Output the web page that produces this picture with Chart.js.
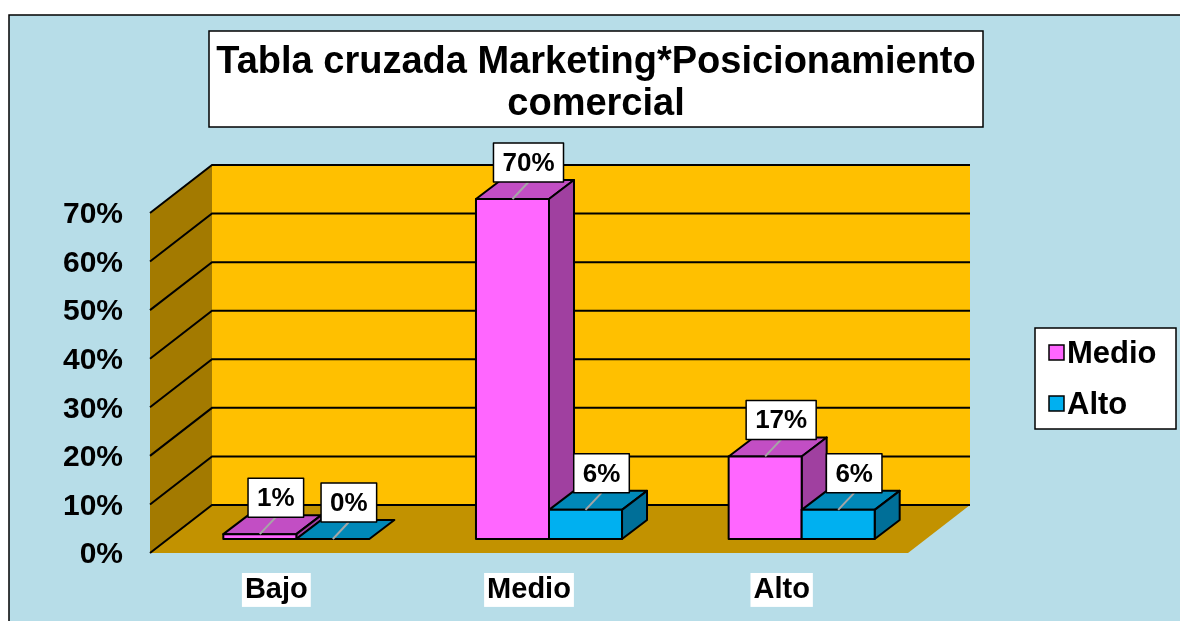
<!DOCTYPE html>
<html>
<head>
<meta charset="utf-8">
<title>Tabla cruzada Marketing*Posicionamiento comercial</title>
<style>
  html, body { margin: 0; padding: 0; background: #fff; }
  canvas { display: block; }
</style>
</head>
<body>
<canvas id="chart" width="1180" height="621"></canvas>
<script src="https://cdn.jsdelivr.net/npm/chart.js@4/dist/chart.umd.min.js"></script>
<script>
// datos
const TITLE_LINES = ['Tabla cruzada Marketing*Posicionamiento', 'comercial'];
const CATEGORIES = ['Bajo', 'Medio', 'Alto'];
const SERIES_NAMES = ['Medio', 'Alto'];
const MEDIO_VALUES = [1, 70, 17];
const ALTO_VALUES = [0, 6, 6];
const Y_TICKS = [0, 10, 20, 30, 40, 50, 60, 70];

const FONT = '"Liberation Sans", Arial, sans-serif';

// colores de las caras de cada serie
const FACES = [
  { front: '#FF66FF', top: '#C24EC4', side: '#A040A0' },
  { front: '#00B0F0', top: '#0088B8', side: '#006F98' }
];

// profundidad del "3D"
const WALL_DX = 62, WALL_DY = 48;   // pared del fondo
const BAR_OX = 20, BAR_OY = 14;     // posicion de la cara frontal de las barras
const BAR_DX = 25, BAR_DY = 19;     // grosor de las barras

function poly(ctx, pts, fill, stroke) {
  ctx.beginPath();
  ctx.moveTo(pts[0][0], pts[0][1]);
  for (let i = 1; i < pts.length; i++) ctx.lineTo(pts[i][0], pts[i][1]);
  ctx.closePath();
  if (fill) { ctx.fillStyle = fill; ctx.fill(); }
  if (stroke) { ctx.strokeStyle = stroke; ctx.stroke(); }
}

function drawBar(ctx, x0, x1, yTop, yBase, faces) {
  ctx.lineWidth = 2;
  ctx.lineJoin = 'round';
  // cara superior
  poly(ctx, [[x0, yTop], [x0 + BAR_DX, yTop - BAR_DY], [x1 + BAR_DX, yTop - BAR_DY], [x1, yTop]], faces.top, '#000');
  if (yBase - yTop < 0.5) return;
  // lateral
  poly(ctx, [[x1, yTop], [x1 + BAR_DX, yTop - BAR_DY], [x1 + BAR_DX, yBase - BAR_DY], [x1, yBase]], faces.side, '#000');
  // frontal
  poly(ctx, [[x0, yTop], [x1, yTop], [x1, yBase], [x0, yBase]], faces.front, '#000');
}

const scene3d = {
  id: 'scene3d',
  beforeDraw(chart) {
    const ctx = chart.ctx;
    ctx.save();
    ctx.fillStyle = '#fff';
    ctx.fillRect(0, 0, chart.width, chart.height);
    ctx.fillStyle = '#B7DDE8';
    ctx.fillRect(9, 15, chart.width, chart.height);
    ctx.strokeStyle = '#000';
    ctx.lineWidth = 1.5;
    ctx.beginPath();
    ctx.moveTo(9, chart.height + 2);
    ctx.lineTo(9, 15);
    ctx.lineTo(chart.width + 2, 15);
    ctx.stroke();
    ctx.restore();
  },
  beforeDatasetsDraw(chart) {
    const ctx = chart.ctx;
    const yS = chart.scales.y;
    const L = chart.chartArea.left, R = chart.chartArea.right;
    const top = yS.getPixelForValue(Y_TICKS[Y_TICKS.length - 1]);
    const bot = yS.getPixelForValue(0);
    ctx.save();
    // pared del fondo
    ctx.fillStyle = '#FFC000';
    ctx.fillRect(L + WALL_DX, top - WALL_DY, R - L, bot - top);
    // pared lateral
    poly(ctx, [[L, top], [L + WALL_DX, top - WALL_DY], [L + WALL_DX, bot - WALL_DY], [L, bot]], '#A37A00');
    // suelo
    poly(ctx, [[L, bot], [R, bot], [R + WALL_DX, bot - WALL_DY], [L + WALL_DX, bot - WALL_DY]], '#C29200');
    // lineas de cuadricula
    ctx.strokeStyle = '#000';
    ctx.lineWidth = 2;
    Y_TICKS.forEach(v => {
      const y = yS.getPixelForValue(v);
      ctx.beginPath();
      ctx.moveTo(L, y);
      ctx.lineTo(L + WALL_DX, y - WALL_DY);
      ctx.lineTo(R + WALL_DX, y - WALL_DY);
      ctx.stroke();
    });
    ctx.restore();
  },
  afterDatasetsDraw(chart) {
    const ctx = chart.ctx;
    const metas = chart.data.datasets.map((ds, d) => chart.getDatasetMeta(d));
    ctx.save();
    // barras: por categoria, de izquierda a derecha
    CATEGORIES.forEach((c, i) => {
      metas.forEach((meta, d) => {
        const p = meta.data[i].getProps(['x', 'y', 'base', 'width'], true);
        const x0 = p.x - p.width / 2 + BAR_OX, x1 = p.x + p.width / 2 + BAR_OX;
        drawBar(ctx, x0, x1, p.y - BAR_OY, p.base - BAR_OY, chart.data.datasets[d].faces);
      });
    });
    // etiquetas de datos
    ctx.font = 'bold 26px ' + FONT;
    ctx.textAlign = 'center';
    ctx.textBaseline = 'middle';
    CATEGORIES.forEach((c, i) => {
      metas.forEach((meta, d) => {
        const p = meta.data[i].getProps(['x', 'y'], true);
        const txt = chart.data.datasets[d].data[i] + '%';
        const fx = p.x + BAR_OX, fy = p.y - BAR_OY;
        const cx = fx + 16, bottom = fy - 17;
        const w = ctx.measureText(txt).width + 18, h = 39;
        ctx.strokeStyle = '#A6A6A6';
        ctx.lineWidth = 2;
        ctx.beginPath();
        ctx.moveTo(cx, bottom);
        ctx.lineTo(fx, fy);
        ctx.stroke();
        ctx.fillStyle = '#fff';
        ctx.fillRect(cx - w / 2, bottom - h, w, h);
        ctx.strokeStyle = '#000';
        ctx.lineWidth = 1.5;
        ctx.strokeRect(cx - w / 2, bottom - h, w, h);
        ctx.fillStyle = '#000';
        ctx.fillText(txt, cx, bottom - h / 2 + 1);
      });
    });
    ctx.restore();
  },
  afterDraw(chart) {
    const ctx = chart.ctx;
    ctx.save();
    // titulo
    ctx.fillStyle = '#fff';
    ctx.fillRect(209, 31, 774, 96);
    ctx.strokeStyle = '#000';
    ctx.lineWidth = 1.5;
    ctx.strokeRect(209, 31, 774, 96);
    ctx.fillStyle = '#000';
    ctx.font = 'bold 38px ' + FONT;
    ctx.textAlign = 'center';
    ctx.textBaseline = 'middle';
    TITLE_LINES.forEach((t, k) => ctx.fillText(t, 596, 63 + k * 42));
    // leyenda
    ctx.fillStyle = '#fff';
    ctx.fillRect(1035, 328, 141, 101);
    ctx.strokeRect(1035, 328, 141, 101);
    ctx.font = 'bold 31px ' + FONT;
    ctx.textAlign = 'left';
    chart.data.datasets.forEach((ds, d) => {
      const y = 353 + d * 51;
      ctx.fillStyle = ds.faces.front;
      ctx.fillRect(1049, y - 8, 15, 15);
      ctx.strokeStyle = '#000';
      ctx.lineWidth = 1.5;
      ctx.strokeRect(1049, y - 8, 15, 15);
      ctx.fillStyle = '#000';
      ctx.fillText(ds.label, 1067, y + 1);
    });
    ctx.restore();
  }
};

new Chart(document.getElementById('chart'), {
  type: 'bar',
  data: {
    labels: CATEGORIES,
    datasets: [
      { label: SERIES_NAMES[0], data: MEDIO_VALUES, faces: FACES[0], backgroundColor: 'rgba(0,0,0,0)', borderWidth: 0 },
      { label: SERIES_NAMES[1], data: ALTO_VALUES, faces: FACES[1], backgroundColor: 'rgba(0,0,0,0)', borderWidth: 0 }
    ]
  },
  options: {
    responsive: false,
    devicePixelRatio: 1,
    animation: false,
    categoryPercentage: 0.578,
    barPercentage: 1.0,
    layout: { padding: { top: 213, right: 272, left: 0, bottom: 0 } },
    plugins: {
      legend: { display: false },
      title: { display: false },
      tooltip: { enabled: false }
    },
    scales: {
      y: {
        min: 0,
        max: 70,
        afterBuildTicks: s => { s.ticks = Y_TICKS.map(v => ({ value: v })); },
        afterFit: s => { s.width = 150; },
        ticks: {
          callback: v => v + '%',
          color: '#000',
          padding: 27,
          labelOffset: 2,
          font: { family: FONT, size: 30, weight: 'bold' }
        },
        grid: { display: false, drawTicks: false },
        border: { display: false }
      },
      x: {
        afterFit: s => { s.height = 68; },
        ticks: {
          color: '#000',
          padding: 21,
          font: { family: FONT, size: 29, weight: 'bold', lineHeight: 1.1 },
          showLabelBackdrop: true,
          backdropColor: '#fff',
          backdropPadding: { top: 1, bottom: 1, left: 3, right: 3 }
        },
        grid: { display: false, drawTicks: false },
        border: { display: false }
      }
    }
  },
  plugins: [scene3d]
});
</script>
</body>
</html>
